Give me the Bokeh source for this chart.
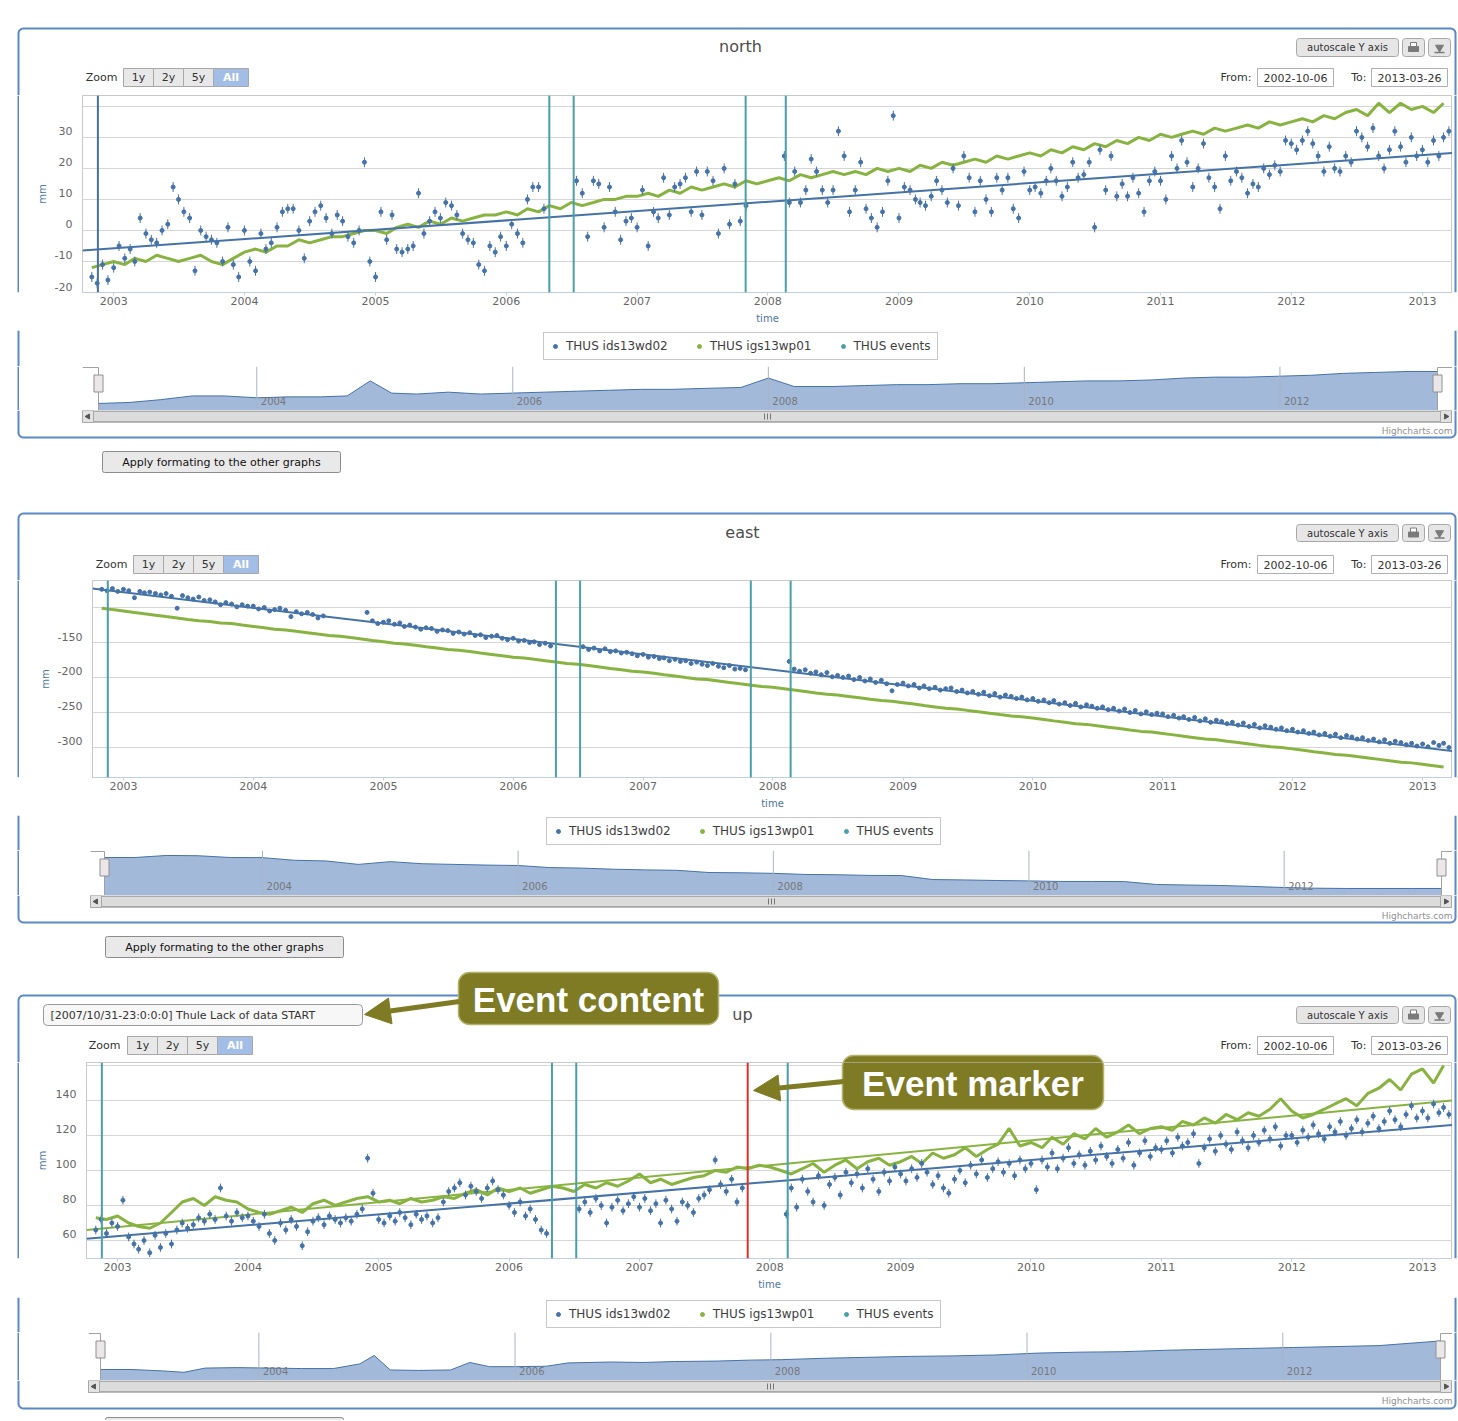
import numpy as np
import pandas as pd
from bokeh.plotting import figure
from bokeh.layouts import column, row
from bokeh.models import (Range1d, FixedTicker, DatetimeTickFormatter, Span, Legend,
                          LegendItem, Arrow, NormalHead)
from bokeh.core.properties import value
from bokeh.embed import file_html
from bokeh.resources import INLINE

nan = float("nan")

# ============================ DATA ============================
DATE_FROM, DATE_TO = "2002-10-06", "2013-03-26"
EVENT_DATES = ["2002-11-18", "2006-05-01", "2006-07-08", "2007-10-31", "2008-02-20"]
SELECTED_EVENT = "2007-10-31"
EVENT_TEXT = "[2007/10/31-23:0:0:0] Thule Lack of data START"
SERIES = ["THUS ids13wd02", "THUS igs13wp01", "THUS events"]
PANELS = ["north", "east", "up"]
ZOOM_BUTTONS = ["1y", "2y", "5y", "All"]
AXIS_YEARS = list(range(2003, 2014))
NAV_YEARS = [2004, 2006, 2008, 2010, 2012]


def half_month_dates():
    out = []
    for y in range(2002, 2014):
        for m in range(1, 13):
            if (2002, 11) <= (y, m) <= (2013, 3):
                out += [f"{y}-{m:02d}-01", f"{y}-{m:02d}-16"]
    return out


def month_dates():
    return [f"{y}-{m:02d}-01" for y in range(2002, 2014) for m in range(1, 13)
            if (2002, 11) <= (y, m) <= (2013, 3)]


BLUE_DATES = half_month_dates()    # THUS ids13wd02 (half-monthly)
GREEN_DATES = month_dates()        # THUS igs13wp01 (monthly)

north_blue = [
    -15, -17, -11, -16,
    -12, -5, -9, -6, -10, 4, -1, -3, -4, 0, 2, 14, 10, 6, 4, -13, 0, -2, -3, -4, -10, 1, -11, -15,
    0, -10, -13, -1, -6, -4, 1, 6, 7, 7, 0, -9, 3, 6, 8, 4, -1, 5, 3, -2, -4, 0, 22, -10,
    -15, 6, -3, 5, -6, -7, -6, -5, 12, -1, 3, 6, 4, 9, 8, 5, -1, -3, -4, -11, -13, -5, -7, -2,
    -5, 2, -1, -4, 10, 14, 14, 7, nan, nan, nan, nan, nan, 16, 12, -2, 16, 15, 1, 14, 6, -3, 3, 4,
    1, 13, -5, 6, 4, 17, 5, 14, 15, 17, 6, 19, 5, 19, 16, -1, 20, 2, 15, 3, 8, nan, nan, nan,
    nan, nan, nan, 24, 9, 19, 9, 13, 23, 19, 13, 9, 13, 32, 24, 6, 13, 22, 7, 4, 1, 6, 16, 37,
    4, 14, 13, 10, 9, 8, 11, 16, 13, 9, 20, 8, 24, 17, 6, 16, 10, 6, 17, 13, 17, 7, 4, 19,
    13, 14, 12, 16, 20, 16, 11, 14, 22, 17, 18, 22, 1, 26, 13, 24, 11, 15, 11, 17, 12, 6, 16, 19,
    16, 10, 24, 20, 29, 22, 14, 20, 28, 17, 14, 7, 24, 16, 19, 17, 12, 15, 14, 20, 18, 21, 19, 29,
    28, 26, 29, 32, 28, 24, 19, 27, 20, 19, 24, 22, 32, 30, 27, 33, 24, 20, 26, 32, 27, 22, 30, 24,
    26, 22, 29, 24, 30, 32,
]
north_green = [
    -12, -11,
    -10, -11, -9, -10, -8, -9, -10, -9, -8, -10, -11, -9,
    -7, -6, -7, -5, -5, -3, -4, -3, -2, -2, -1, 0,
    0, -1, 1, 2, 1, 3, 2, 4, 3, 4, 5, 5,
    6, 5, 7, 6, 8, 7, 9, 8, 9, 10, 10, 11,
    11, 12, 11, 13, 12, 14, 13, 14, 15, 14, 16, 15,
    16, 17, 16, 18, 17, 18, 19, 18, 19, 18, 20, 19,
    20, 19, 21, 20, 22, 21, 22, 23, 22, 24, 23, 24,
    25, 24, 26, 25, 27, 26, 28, 27, 29, 28, 30, 29,
    31, 30, 31, 32, 31, 33, 32, 33, 34, 33, 35, 34,
    35, 36, 35, 37, 36, 38, 39, 37, 41, 38, 41, 39,
    40, 38, 41,
]
north_blue_trend = [-6.5, 25.0]

east_blue = [
    -74, -76, -73, -77,
    -74, -76, -86, -77, -79, -78, -80, -82, -80, -84, -101, -83, -86, -88, -85, -90, -89, -92, -96, -93, -95, -99, -96, -98,
    -98, -102, -100, -105, -103, -101, -104, -113, -106, -109, -107, -110, -115, -112, nan, nan, nan, nan, nan, nan, nan, -107, -119, -123,
    -121, -119, -124, -122, -127, -125, -128, -131, -129, -130, -134, -132, -133, -137, -135, -138, -136, -140, -139, -143, -141, -140, -144, -146,
    -144, -148, -147, -150, -149, -153, -151, -155, nan, nan, nan, nan, nan, -156, -160, -158, -162, -159, -163, -162, -165, -164, -166, -169,
    -167, -171, -170, -173, -172, -176, -174, -177, -176, -180, -178, -181, -183, -180, -184, -186, -183, -188, -187, -189, nan, nan, nan, nan,
    nan, nan, nan, -177, -188, -191, -189, -194, -192, -196, -193, -199, -197, -200, -198, -203, -200, -205, -202, -207, -204, -209, -219, -210,
    -208, -212, -210, -215, -212, -216, -214, -218, -216, -215, -220, -218, -222, -220, -224, -221, -226, -223, -228, -225, -227, -230, -228, -232,
    -230, -234, -232, -236, -233, -238, -236, -240, -237, -242, -239, -241, -244, -242, -246, -244, -248, -245, -250, -247, -252, -249, -253, -251,
    -252, -256, -254, -258, -256, -260, -257, -262, -259, -264, -261, -263, -266, -264, -268, -265, -270, -267, -272, -269, -271, -274, -272, -276,
    -274, -278, -276, -280, -278, -282, -280, -284, -281, -286, -283, -285, -288, -286, -290, -288, -292, -289, -294, -291, -293, -296, -294, -298,
    -295, -299, -293, -297, -294, -300,
]
east_green = [
    -101, -103,
    -105, -107, -109, -111, -113, -115, -117, -119, -120, -122, -123, -125,
    -127, -129, -131, -132, -134, -136, -138, -140, -141, -143, -145, -147,
    -149, -151, -152, -154, -156, -158, -160, -161, -163, -165, -167, -169,
    -171, -172, -174, -176, -178, -180, -181, -183, -185, -187, -189, -191,
    -192, -194, -196, -198, -200, -202, -203, -205, -207, -209, -211, -213,
    -214, -216, -218, -220, -222, -224, -225, -227, -229, -231, -233, -234,
    -236, -238, -240, -242, -244, -245, -247, -249, -251, -253, -255, -256,
    -258, -260, -262, -264, -266, -267, -269, -271, -273, -275, -277, -278,
    -280, -282, -284, -286, -288, -289, -291, -293, -295, -297, -299, -300,
    -302, -304, -306, -308, -310, -311, -313, -315, -317, -319, -321, -322,
    -324, -326, -328,
]
east_blue_trend = [-73.0, -305.0]

up_blue = [
    66, 72, 64, 70,
    68, 83, 62, 58, 55, 60, 53, 63, 56, 64, 58, 66, 70, 67, 69, 73, 71, 75, 72, 90, 74, 71, 76, 73,
    74, 71, 68, 75, 64, 60, 70, 66, 72, 68, 57, 65, 71, 73, 69, 74, 72, 70, 73, 71, 75, 78, 107, 87,
    72, 70, 74, 71, 76, 73, 69, 75, 72, 74, 70, 73, 82, 88, 90, 93, 86, 91, 88, 84, 90, 94, 89, 86,
    80, 76, 82, 74, 78, 72, 66, 64, nan, nan, nan, nan, nan, 78, 82, 76, 84, 80, 70, 79, 83, 77, 81, 85,
    79, 84, 77, 81, 70, 83, 78, 71, 82, 80, 76, 84, 86, 89, 106, 92, 88, 95, 82, 90, nan, nan, nan, nan,
    nan, nan, nan, 75, 90, 79, 95, 88, 82, 97, 80, 92, 96, 86, 99, 93, 98, 90, 101, 95, 88, 99, 94, 102,
    98, 94, 101, 96, 104, 99, 92, 97, 90, 87, 95, 100, 93, 103, 98, 106, 96, 101, 105, 99, 104, 97, 106, 101,
    104, 89, 106, 102, 110, 101, 107, 113, 104, 109, 103, 111, 106, 114, 108, 104, 112, 107, 116, 103, 110, 117, 108, 113,
    112, 117, 110, 119, 114, 116, 121, 104, 113, 118, 111, 120, 115, 112, 122, 117, 113, 120, 116, 123, 118, 125, 114, 120,
    120, 116, 123, 119, 126, 121, 118, 125, 122, 128, 120, 124, 129, 122, 127, 131, 124, 128, 134, 129, 125, 132, 137, 130,
    134, 130, 138, 133, 136, 132,
]
up_green = [
    73, 72,
    74, 70, 68, 67, 70, 76, 82, 84, 80, 85, 83, 82,
    78, 76, 75, 77, 79, 76, 81, 83, 80, 82, 84, 85,
    82, 83, 81, 84, 82, 83, 85, 84, 87, 89, 86, 90,
    88, 90, 87, 89, 91, 90, 88, 92, 90, 93, 91, 94,
    98, 93, 95, 92, 94, 96, 97, 100, 99, 102, 101, 103,
    102, 100, 98, 101, 104, 99, 103, 106, 101, 105, 107, 103,
    105, 108, 104, 110, 107, 109, 113, 108, 112, 115, 124, 114,
    116, 113, 119, 115, 121, 118, 124, 119, 122, 126, 121, 124,
    125, 123, 128, 126, 130, 127, 132, 129, 133, 131, 135, 141,
    134, 130, 132, 135, 138, 141, 137, 144, 147, 152, 146, 155,
    158, 150, 160,
]
up_blue_trend = [61.0, 126.0]
up_green_trend = [66.0, 140.0]

# navigator (grouped first series)
north_nav_dates = ["2002-10-06", "2003-01-01", "2003-04-01", "2003-07-01", "2003-10-01", "2004-01-01",
                   "2004-04-01", "2004-07-01", "2004-09-15", "2004-11-20", "2005-01-20", "2005-04-01",
                   "2005-07-01", "2005-10-01", "2006-01-01", "2006-04-01", "2006-07-01", "2006-10-01",
                   "2007-01-01", "2007-04-01", "2007-07-01", "2007-10-15", "2008-01-01", "2008-03-15",
                   "2008-07-01", "2008-10-01", "2009-01-01", "2009-04-01", "2009-07-01", "2009-10-01",
                   "2010-01-01", "2010-04-01", "2010-07-01", "2010-10-01", "2011-01-01", "2011-04-01",
                   "2011-07-01", "2011-10-01", "2012-01-01", "2012-04-01", "2012-07-01", "2012-10-01",
                   "2013-01-01", "2013-03-26"]
north_nav = [-9, -8, -5, -1, -1, -3, -2, -2, -1, 15, 2, 1, 3, 1, 2, 3, 4, 5, 6, 6, 7, 8, 18, 9,
             9, 10, 11, 11, 12, 12, 13, 14, 15, 15, 16, 18, 19, 19, 20, 21, 23, 24, 25, 25]

east_nav_dates = ["2002-10-06", "2003-01-01", "2003-04-01", "2003-07-01", "2003-10-01", "2004-01-01",
                  "2004-04-01", "2004-07-01", "2004-10-01", "2005-01-01", "2005-04-01", "2005-07-01",
                  "2005-10-01", "2006-01-01", "2006-04-01", "2006-07-01", "2006-10-01", "2007-01-01",
                  "2007-04-01", "2007-07-01", "2007-10-01", "2008-01-01", "2008-04-01", "2008-07-01",
                  "2008-10-01", "2009-01-01", "2009-04-01", "2009-07-01", "2009-10-01", "2010-01-01",
                  "2010-04-01", "2010-07-01", "2010-10-01", "2011-01-01", "2011-04-01", "2011-07-01",
                  "2011-10-01", "2012-01-01", "2012-04-01", "2012-07-01", "2012-10-01", "2013-01-01",
                  "2013-03-26"]
east_nav = [-75, -75, -60, -62, -75, -76, -95, -100, -125, -105, -120, -125, -130, -133, -148, -152,
            -160, -165, -168, -184, -186, -190, -198, -200, -205, -206, -235, -238, -242, -245, -249,
            -249, -250, -271, -275, -278, -285, -293, -298, -300, -300, -300, -300]

up_nav_dates = ["2002-10-06", "2003-01-01", "2003-04-01", "2003-06-01", "2003-08-01", "2003-11-01",
                "2004-02-01", "2004-05-01", "2004-08-01", "2004-10-15", "2004-11-25", "2005-01-10",
                "2005-04-01", "2005-07-01", "2005-08-25", "2005-10-20", "2006-01-01", "2006-04-01",
                "2006-06-01", "2006-10-01", "2007-01-01", "2007-04-01", "2007-08-01", "2007-11-01",
                "2008-02-01", "2008-06-01", "2008-10-01", "2009-02-01", "2009-06-01", "2009-10-01",
                "2010-02-01", "2010-06-01", "2010-10-01", "2011-02-01", "2011-06-01", "2011-10-01",
                "2012-02-01", "2012-06-01", "2012-10-01", "2013-01-15", "2013-03-26"]
up_nav = [63, 63, 60, 57, 66, 67, 66, 65, 65, 75, 93, 62, 61, 62, 78, 69, 69, 70, 77, 79, 78, 80,
          81, 83, 84, 87, 89, 91, 92, 94, 98, 100, 101, 104, 106, 108, 110, 112, 114, 120, 124]

BLUE_ERR = {"north": 1.6, "east": 2.0, "up": 2.5}

DATA = {
    "north": dict(blue=north_blue, green=north_green, blue_trend=north_blue_trend, green_trend=None,
                  nav_dates=north_nav_dates, nav=north_nav),
    "east": dict(blue=east_blue, green=east_green, blue_trend=east_blue_trend, green_trend=None,
                 nav_dates=east_nav_dates, nav=east_nav),
    "up": dict(blue=up_blue, green=up_green, blue_trend=up_blue_trend, green_trend=up_green_trend,
               nav_dates=up_nav_dates, nav=up_nav),
}

# ============================ STYLE / GEOMETRY ============================
FONT = "DejaVu Sans"
CALLOUT_FONT = "Liberation Sans"
BLUE = "#4572A7"
GREEN = "#88B340"
EVENT_COLOR = "#4A9FA8"
RED = "#E0302B"
BORDER = "#5B89C8"
OLIVE = "#7E7B24"
OLIVE_EDGE = "#B4B16A"
NAV_FILL = "#A3B9DA"
X0, X1 = 0, 1458
BL, BR = 18, 1455
LS = 19          # left strip width
FR = 1452        # right edge of plot frames
R = 5

CFG = {
    "north": dict(header=(0, 95), border_top=28, title=(740, 46), btn=(38, 56),
                  zoom=(68, 86), zoom_text_x=117, zoom_x0=123,
                  main=(95, 330, 292), frame_left=82, yr=(-20, 43.5),
                  yticks=[-20, -10, 0, 10, 20, 30, 40], ylab_standoff=4,
                  legend=(330, 366, 543, 334, 360),
                  nav=(366, 410, 82, 98, 1437), navyr=(-16.5, 30.3),
                  bottom=(410, 500), scroll=(410, 422), credit_y=430, border_bottom=437,
                  apply=(102, 340, 451, 472)),
    "east": dict(header=(500, 580), border_top=513, title=(742, 532), btn=(524, 541),
                 zoom=(555, 573), zoom_text_x=127, zoom_x0=133,
                 main=(580, 815, 777), frame_left=92, yr=(-342.9, -61.4),
                 yticks=[-300, -250, -200, -150, -100], ylab_standoff=4,
                 legend=(815, 850, 546, 820, 845),
                 nav=(850, 895, 90, 104, 1441), navyr=(-351, -24),
                 bottom=(895, 962), scroll=(895, 907), credit_y=915, border_bottom=922,
                 apply=(105, 343, 936, 957)),
    "up": dict(header=(962, 1062), border_top=995, title=(742, 1014), btn=(1006, 1023),
               zoom=(1036, 1054), zoom_text_x=120, zoom_x0=127,
               main=(1062, 1297, 1258), frame_left=86, yr=(49.7, 161.7),
               yticks=[60, 80, 100, 120, 140, 160], ylab_standoff=5,
               legend=(1297, 1332, 546, 1302, 1328),
               nav=(1332, 1380, 88, 100, 1440), navyr=(39.5, 142),
               bottom=(1380, 1420), scroll=(1380, 1392), credit_y=1400, border_bottom=1408,
               apply=(105, 343, 1417, 1438)),
}


def ms(d):
    return pd.Timestamp(d).value / 1e6


def ms_arr(ds):
    return np.array([ms(d) for d in ds], dtype=float)


def pix_fig(y0, y1, x0=X0, x1=X1):
    p = figure(width=x1 - x0, height=y1 - y0, x_range=Range1d(x0, x1), y_range=Range1d(y1, y0),
               x_axis_location=None, y_axis_location=None, toolbar_location=None,
               output_backend="svg", min_border=0, outline_line_color=None)
    p.xgrid.visible = False
    p.ygrid.visible = False
    return p


def txt(p, x, y, s, size=11, color="#333333", align="left", bold=False, font=FONT):
    p.text(x=[x], y=[y], text=[s], text_font=value(font), text_font_size=f"{size}px",
           text_color=color, text_align=align, text_baseline="middle",
           text_font_style="bold" if bold else "normal")


def box(p, l, r, t, b, fill, line, lw=1, radius=0):
    p.quad(left=[l], right=[r], top=[t], bottom=[b], fill_color=fill, line_color=line,
           line_width=lw, border_radius=radius)


def top_border(p, yt, y_end):
    a1 = np.linspace(np.pi, 1.5 * np.pi, 8)
    a2 = np.linspace(1.5 * np.pi, 2 * np.pi, 8)
    xs = [BL] + list(BL + R + R * np.cos(a1)) + list(BR - R + R * np.cos(a2)) + [BR]
    ys = [y_end] + list(yt + R + R * np.sin(a1)) + list(yt + R + R * np.sin(a2)) + [y_end]
    p.line(xs, ys, line_color=BORDER, line_width=2)


def bottom_border(p, y_start, yb):
    a1 = np.linspace(np.pi, 0.5 * np.pi, 8)
    a2 = np.linspace(0.5 * np.pi, 0, 8)
    xs = [BL] + list(BL + R + R * np.cos(a1)) + list(BR - R + R * np.cos(a2)) + [BR]
    ys = [y_start] + list(yb - R + R * np.sin(a1)) + list(yb - R + R * np.sin(a2)) + [y_start]
    p.line(xs, ys, line_color=BORDER, line_width=2)


def strip(x0, x1, y0, y1, xl):
    p = pix_fig(y0, y1, x0, x1)
    p.segment(x0=[xl], y0=[y0], x1=[xl], y1=[y1], line_color=BORDER, line_width=2)
    return p


# callouts (page pixels)
MARKER_BOX = (842, 1103, 1055, 1109)
MARKER_TEXT_Y = 1082.5
CONTENT_BOX = (458, 718, 972, 1024)


def header(key, cfg):
    y0, y1 = cfg["header"]
    p = pix_fig(y0, y1)
    top_border(p, cfg["border_top"], y1)
    tx, ty = cfg["title"]
    txt(p, tx, ty, key, 16, "#4D4D4D", "center")
    b0, b1 = cfg["btn"]
    bm = (b0 + b1) / 2
    box(p, 1296, 1398, b0, b1, "#E6E6E6", "#A8A8A8", radius=3)
    txt(p, 1347, bm, "autoscale Y axis", 10, "#333333", "center")
    box(p, 1402, 1424, b0, b1, "#E6E6E6", "#A8A8A8", radius=3)
    box(p, 1428, 1450, b0, b1, "#E6E6E6", "#A8A8A8", radius=3)
    box(p, 1408, 1418, bm - 1, bm + 4, "#7A7A7A", "#7A7A7A")
    box(p, 1410, 1416, bm - 5, bm - 1, "white", "#7A7A7A")
    p.scatter([1439], [bm], marker="inverted_triangle", size=8, color="#7A7A7A")
    p.segment(x0=[1434], y0=[bm + 5], x1=[1444], y1=[bm + 5], line_color="#7A7A7A", line_width=1.5)

    z0, z1 = cfg["zoom"]
    zm = (z0 + z1) / 2
    txt(p, cfg["zoom_text_x"], zm, "Zoom", 11, "#333333", "right")
    x = cfg["zoom_x0"]
    for lab, w in zip(ZOOM_BUTTONS, [30, 30, 30, 35]):
        sel = lab == "All"
        box(p, x, x + w, z0, z1, "#A3BEE6" if sel else "#E8E8E8", "#A8A8A8")
        txt(p, x + w / 2, zm, lab, 11, "#FFFFFF" if sel else "#333333", "center", bold=sel)
        x += w
    txt(p, 1251, zm, "From:", 11, "#333333", "right")
    box(p, 1257, 1333, z0, z1, "white", "#B0B0B0")
    txt(p, 1295, zm, DATE_FROM, 11, "#333333", "center")
    txt(p, 1366, zm, "To:", 11, "#333333", "right")
    box(p, 1371, 1447, z0, z1, "white", "#B0B0B0")
    txt(p, 1409, zm, DATE_TO, 11, "#333333", "center")

    if key == "up":
        box(p, 43, 362, 1004, 1025, "#F7F7F7", "#9A9A9A", radius=4)
        txt(p, 50, 1014.5, EVENT_TEXT, 11, "#333333")
        l, r, t, b = CONTENT_BOX
        box(p, l, r, t, b, OLIVE, OLIVE_EDGE, lw=1.5, radius=11)
        txt(p, (l + r) / 2, 998.5, "Event content", 35, "white", "center", bold=True,
            font=CALLOUT_FONT)
        p.add_layout(Arrow(end=NormalHead(size=26, fill_color=OLIVE, line_color=OLIVE),
                           x_start=459, y_start=1001, x_end=364, y_end=1014,
                           line_color=OLIVE, line_width=5))
        l, r, t, b = MARKER_BOX
        box(p, l, r, t, b, OLIVE, OLIVE_EDGE, lw=1.5, radius=11)
    return p


def main_panel(key, cfg):
    d = DATA[key]
    y0, y1, fb = cfg["main"]
    fl = cfg["frame_left"]
    xr = (ms(DATE_FROM), ms(DATE_TO))
    yr = cfg["yr"]
    p = figure(width=FR - LS, height=y1 - y0, x_axis_type="datetime",
               x_range=Range1d(*xr), y_range=Range1d(*yr),
               toolbar_location=None, output_backend="svg",
               min_border_left=fl - LS, min_border_right=0, min_border_top=0,
               min_border_bottom=y1 - fb)
    p.outline_line_color = "#C8C8C8"
    p.xgrid.grid_line_color = None
    p.ygrid.grid_line_color = "#D6D6D6"

    p.xaxis.ticker = FixedTicker(ticks=[ms(f"{y}-01-01") for y in AXIS_YEARS])
    p.xaxis.formatter = DatetimeTickFormatter(years="%Y", months="%Y", days="%Y")
    p.xaxis.axis_line_color = "#C0D0E0"
    p.xaxis.major_tick_line_color = "#C0D0E0"
    p.xaxis.major_tick_out = 3
    p.xaxis.major_tick_in = 0
    p.xaxis.minor_tick_line_color = None
    p.xaxis.major_label_standoff = 1
    p.xaxis.axis_label = "time"
    p.xaxis.axis_label_standoff = 5

    # grid lines on the tick values; labels drawn a few pixels above their grid line
    yt = cfg["yticks"]
    p.ygrid.ticker = FixedTicker(ticks=yt)
    off = round(6.0 * (yr[1] - yr[0]) / (fb - y0), 3)
    lab_pos = [round(t + off, 3) for t in yt[:-1]]
    p.yaxis.ticker = FixedTicker(ticks=lab_pos)
    p.yaxis.major_label_overrides = {pos: str(t) for pos, t in zip(lab_pos, yt[:-1])}
    p.yaxis.axis_line_color = None
    p.yaxis.major_tick_line_color = None
    p.yaxis.minor_tick_line_color = None
    p.yaxis.major_label_standoff = 4
    p.yaxis.axis_label = "mm"
    p.yaxis.axis_label_standoff = cfg["ylab_standoff"]
    for ax in (p.xaxis, p.yaxis):
        ax.major_label_text_font = FONT
        ax.major_label_text_font_size = "11px"
        ax.major_label_text_color = "#666666"
        ax.axis_label_text_font = FONT
        ax.axis_label_text_font_size = "10px"
        ax.axis_label_text_font_style = "normal"
        ax.axis_label_text_color = "#4D759E"

    for ev in EVENT_DATES:
        col = RED if (key == "up" and ev == SELECTED_EVENT) else EVENT_COLOR
        if key == "north" and ev == EVENT_DATES[0]:
            col = BLUE
        p.add_layout(Span(location=ms(ev), dimension="height", line_color=col, line_width=2))

    tx = ms_arr([DATE_FROM, DATE_TO])
    gx = ms_arr(GREEN_DATES)
    g = np.array(d["green"], dtype=float)
    n = min(len(gx), len(g))
    p.line(gx[:n], g[:n], line_color=GREEN, line_width=3)
    if d["green_trend"] is not None:
        p.line(tx, d["green_trend"], line_color=GREEN, line_width=2)
    bx = ms_arr(BLUE_DATES)
    b = np.array(d["blue"], dtype=float)
    n = min(len(bx), len(b))
    err = BLUE_ERR[key]
    p.segment(x0=bx[:n], y0=b[:n] - err, x1=bx[:n], y1=b[:n] + err, line_color=BLUE, line_width=1)
    p.scatter(bx[:n], b[:n], size=4, color=BLUE)
    p.line(tx, d["blue_trend"], line_color=BLUE, line_width=2)

    if key == "up":
        def P(px, py):
            return (xr[0] + (px - fl) / (FR - fl) * (xr[1] - xr[0]),
                    yr[1] - (py - y0) / (fb - y0) * (yr[1] - yr[0]))
        l, r, t, bt = MARKER_BOX
        (ql, qt), (qr, qb) = P(l, t), P(r, bt)
        p.quad(left=[ql], right=[qr], top=[qt], bottom=[qb], fill_color=OLIVE, line_color=OLIVE_EDGE,
               line_width=1.5, border_radius=11)
        cx, cy = P((l + r) / 2, MARKER_TEXT_Y)
        p.text(x=[cx], y=[cy], text=["Event marker"], text_font=value(CALLOUT_FONT),
               text_font_size="35px", text_color="white", text_align="center",
               text_baseline="middle", text_font_style="bold")
        xs, ys = P(843, 1081)
        xe, ye = P(753, 1090)
        p.add_layout(Arrow(end=NormalHead(size=26, fill_color=OLIVE, line_color=OLIVE),
                           x_start=xs, y_start=ys, x_end=xe, y_end=ye,
                           line_color=OLIVE, line_width=5))
    return p


def legend_strip(cfg):
    y0, y1, lx, ly0, ly1 = cfg["legend"]
    p = pix_fig(y0, y1)
    p.segment(x0=[BL, BR], y0=[y0, y0], x1=[BL, BR], y1=[y1, y1], line_color=BORDER, line_width=2)
    rs = [p.scatter(x=[-100], y=[-100], size=7, color=c) for c in (BLUE, GREEN, EVENT_COLOR)]
    items = [LegendItem(label=s, renderers=[r]) for s, r in zip(SERIES, rs)]
    lg = Legend(items=items, orientation="horizontal", location=(lx - X0, y1 - ly1),
                border_line_color="#909090", border_line_width=1, background_fill_color="white",
                label_text_font=FONT, label_text_font_size="12px", label_text_color="#3E3E3E",
                glyph_width=10, glyph_height=10, label_height=12, label_standoff=6,
                spacing=26, padding=6, margin=0)
    p.add_layout(lg)
    return p


def nav_panel(key, cfg):
    d = DATA[key]
    y0, y1, fl, dl, dr = cfg["nav"]
    a, b = ms(DATE_FROM), ms(DATE_TO)
    mpp = (b - a) / (dr - dl)
    xr = (a - (dl - fl) * mpp, b + (FR - dr) * mpp)
    ymin, ymax = cfg["navyr"]
    h = y1 - y0
    p = figure(width=FR - LS, height=h, x_range=Range1d(*xr), y_range=Range1d(ymin, ymax),
               x_axis_location=None, y_axis_location=None, toolbar_location=None,
               output_backend="svg", min_border_left=fl - LS, min_border_right=0,
               min_border_top=0, min_border_bottom=0, outline_line_color=None)
    p.xgrid.visible = False
    p.ygrid.visible = False
    upp = (ymax - ymin) / h
    nx = ms_arr(d["nav_dates"])
    nv = np.array(d["nav"], dtype=float)
    p.varea(x=nx, y1=np.full(len(nx), ymin), y2=nv, fill_color=NAV_FILL)
    p.line(nx, nv, line_color=BLUE, line_width=1)
    tks = ms_arr([f"{y}-01-01" for y in NAV_YEARS])
    p.segment(x0=tks, y0=[ymin] * len(tks), x1=tks, y1=[ymax] * len(tks),
              line_color="#AAB4C2", line_width=1)
    p.text(x=tks, y=[ymin + 10 * upp] * len(tks), text=[str(y) for y in NAV_YEARS], x_offset=4,
           text_baseline="middle", text_font=value(FONT), text_font_size="10px", text_color="#777777")
    top = ymax - 1 * upp
    p.segment(x0=[xr[0], b], y0=[top, top], x1=[a, xr[1]], y1=[top, top], line_color="#A0A0A8")
    p.segment(x0=[a, b], y0=[ymin, ymin], x1=[a, b], y1=[top, top], line_color="#A0A0A8")
    hc = ymax - 17 * upp
    p.rect(x=[a, b], y=[hc, hc], width=9, height=17, width_units="screen", height_units="screen",
           fill_color="#EBE7E8", line_color="#909090")
    return p


def bottom_strip(key, cfg):
    y0, y1 = cfg["bottom"]
    p = pix_fig(y0, y1)
    bottom_border(p, y0, cfg["border_bottom"])
    s0, s1 = cfg["scroll"]
    sm = (s0 + s1) / 2
    fl = cfg["nav"][2]
    box(p, fl, FR - 1, s0, s1, "#EEEEEE", "#BBBBBB")
    box(p, fl + 11, FR - 12, s0 + 1, s1 - 1, "#DCDCDC", "#A8A8A8")
    box(p, fl, fl + 11, s0, s1, "#E2E2E2", "#A8A8A8")
    box(p, FR - 12, FR - 1, s0, s1, "#E2E2E2", "#A8A8A8")
    p.scatter([fl + 5.5], [sm], marker="triangle", angle=np.pi / 2, size=5, color="#555555")
    p.scatter([FR - 6.5], [sm], marker="triangle", angle=-np.pi / 2, size=5, color="#555555")
    cx = (fl + FR) / 2
    p.segment(x0=[cx - 3, cx, cx + 3], y0=[s0 + 3] * 3, x1=[cx - 3, cx, cx + 3], y1=[s1 - 3] * 3,
              line_color="#777777", line_width=1)
    txt(p, FR, cfg["credit_y"], "Highcharts.com", 9, "#909090", "right")
    l, r, t, b = cfg["apply"]
    box(p, l, r, t, b, "#E9E9E9", "#8C8C8C", radius=2)
    if b <= y1:
        txt(p, (l + r) / 2, (t + b) / 2, "Apply formating to the other graphs", 11, "#111111", "center")
    return p


sections = []
for key in PANELS:
    cfg = CFG[key]
    sections.append(header(key, cfg))
    my0, my1, _ = cfg["main"]
    sections.append(row(strip(X0, LS, my0, my1, BL), main_panel(key, cfg), strip(FR, X1, my0, my1, BR)))
    sections.append(legend_strip(cfg))
    ny0, ny1 = cfg["nav"][:2]
    sections.append(row(strip(X0, LS, ny0, ny1, BL), nav_panel(key, cfg), strip(FR, X1, ny0, ny1, BR)))
    sections.append(bottom_strip(key, cfg))

layout = column(*sections)
open("out.html", "w").write(file_html(layout, INLINE))
